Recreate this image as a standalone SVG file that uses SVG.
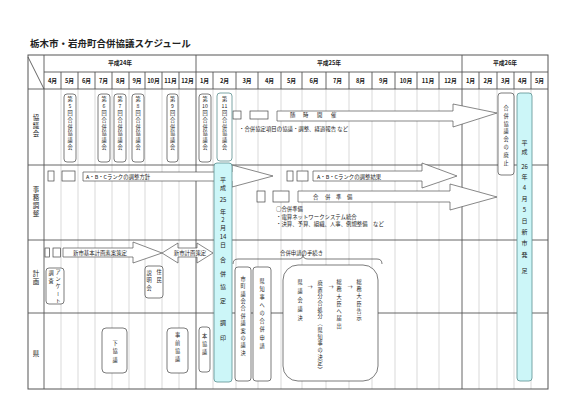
<svg xmlns="http://www.w3.org/2000/svg" width="580" height="410" viewBox="0 0 580 410">
<style>
text{font-family:"Noto Sans CJK JP","Noto Sans",sans-serif;fill:#222}
.t{font-size:9.5px;font-weight:bold}
.h{font-size:5.8px;text-anchor:middle;font-weight:bold}
.lab{font-size:6.5px;writing-mode:vertical-rl;text-orientation:upright}
.v{font-size:5.2px;writing-mode:vertical-rl;text-orientation:upright}
.n{font-size:5.2px;text-anchor:middle}
.s{font-size:5.4px}
.g{stroke:#c8c8c8;stroke-width:0.7;fill:none}
.d{stroke:#555;stroke-width:0.9;fill:none}
.b{fill:#fff;stroke:#444;stroke-width:0.7}
.c{fill:#ccf6f8;stroke:#5b8f8f;stroke-width:0.8}
.ar{fill:#fff;stroke:#555;stroke-width:0.7}
</style>
<rect width="580" height="410" fill="#fff"/>
<text class="t" x="30" y="47">栃木市・岩舟町合併協議スケジュール</text>
<g id="grid">
<path class="g" d="M61 89V389M78 89V389M95 89V389M112 89V389M129 89V389M145 89V389M162 89V389M179 89V389M213 89V389M236 89V389M258 89V389M281 89V389M302 89V389M326 89V389M349 89V389M372 89V389M395 89V389M417 89V389M439 89V389M479 89V389M497 89V389M514 89V389M531 89V389"/>
<path class="d" d="M61 72V89M78 72V89M95 72V89M112 72V89M129 72V89M145 72V89M162 72V89M179 72V89M213 72V89M236 72V89M258 72V89M281 72V89M302 72V89M326 72V89M349 72V89M372 72V89M395 72V89M417 72V89M439 72V89M479 72V89M497 72V89M514 72V89M531 72V89"/>
<path class="d" d="M44 72H548M28 89H548M28 165H548M28 240H548M28 313H548M44 55V389M196 55V389M462 55V389M28 57L44 89"/>
<rect x="28" y="55" width="520" height="334" fill="none" stroke="#555" stroke-width="1"/>
<text class="h" x="120" y="65">平成24年</text>
<text class="h" x="329" y="65">平成25年</text>
<text class="h" x="505" y="65">平成26年</text>
<text class="h" y="83"><tspan x="52.5">4月</tspan><tspan x="69.5">5月</tspan><tspan x="86.5">6月</tspan><tspan x="103.5">7月</tspan><tspan x="120.5">8月</tspan><tspan x="137">9月</tspan><tspan x="153.5">10月</tspan><tspan x="170.5">11月</tspan><tspan x="187.5">12月</tspan><tspan x="204.5">1月</tspan><tspan x="224.5">2月</tspan><tspan x="247">3月</tspan><tspan x="269.5">4月</tspan><tspan x="291.5">5月</tspan><tspan x="314">6月</tspan><tspan x="337.5">7月</tspan><tspan x="360.5">8月</tspan><tspan x="383.5">9月</tspan><tspan x="406">10月</tspan><tspan x="428">11月</tspan><tspan x="450.5">12月</tspan><tspan x="470.5">1月</tspan><tspan x="488">2月</tspan><tspan x="505.5">3月</tspan><tspan x="522.5">4月</tspan><tspan x="539.5">5月</tspan></text>
<text class="lab" x="36" y="113.8" letter-spacing="1.5">協議会</text>
<text class="lab" x="36" y="185.8" letter-spacing="1.8">事務調整</text>
<text class="lab" x="36" y="269.8" letter-spacing="1.5">計画</text>
<text class="lab" x="36" y="350">県</text>
</g>
<g id="connectors">
<polygon class="ar" points="277,111 453,111 453,104 497,113 453,127 453,121 277,121"/>
<polygon class="ar" points="83,172 232,172 232,165 273,176 232,187 232,181 83,181"/>
<polygon class="ar" points="313,171 422,171 422,163 457,176 422,188 422,181 313,181"/>
<polygon class="ar" points="298,191 450,191 450,184 497,197 450,210 450,202 298,202"/>
<polygon class="ar" points="63,248 133,248 133,242 162,253 133,263 133,257 63,257"/>
<polygon class="ar" points="162,253 178,243 178,248 197,248 197,243 213,253 197,263 197,257 178,257 178,263"/>
<path d="M233 264Q233 259 238 259H298Q303 259 303 255Q303 259 308 259H377Q382 259 382 264" fill="none" stroke="#444" stroke-width="0.7"/>
</g>
<g id="labels">
<text class="s" y="117"><tspan x="290">随</tspan><tspan x="303">時</tspan><tspan x="317">開</tspan><tspan x="331">催</tspan></text>
<text class="s" x="239" y="131">・合併協定項目の協議・調整、経過報告 など</text>
<text class="s" x="86" y="179">A・B・Cランクの調整方針</text>
<text class="s" x="317" y="179">A・B・Cランクの調整結果</text>
<text class="s" y="199"><tspan x="313">合</tspan><tspan x="325">併</tspan><tspan x="336">準</tspan><tspan x="347">備</tspan></text>
<text class="s" x="276" y="211">○合併準備</text>
<text class="s" x="276" y="219">・電算ネットワークシステム統合</text>
<text class="s" x="276" y="226">・決算、予算、組織、人事、例規整備　など</text>
<text class="s" x="73" y="255">新市基本計画素案策定</text>
<text class="s" x="190" y="255" text-anchor="middle">新市計画策定</text>
<text class="s" x="280" y="255">合併申請の手続き</text>
</g>
<g id="smallboxes">
<rect class="b" x="233" y="111" width="8" height="8"/>
<rect class="b" x="250" y="111" width="18" height="8"/>
<rect class="b" x="48" y="171" width="6" height="10"/>
<rect class="b" x="62" y="171" width="13" height="10"/>
<rect class="b" x="287" y="171" width="6" height="10"/>
<rect class="b" x="297" y="171" width="11" height="10"/>
<rect class="b" x="257" y="191" width="8" height="11"/>
<rect class="b" x="273" y="191" width="16" height="11"/>
<rect class="b" x="45" y="248" width="4.5" height="9"/>
<rect class="b" x="53" y="248" width="7.5" height="9"/>
</g>
<g id="kai5"><rect class="b" x="64" y="94" width="12" height="68" rx="3"/><text class="v" x="70" y="96.4" letter-spacing="1.7">第5回合併協議会</text></g>
<g id="kai6"><rect class="b" x="98" y="94" width="12" height="68" rx="3"/><text class="v" x="104" y="96.4" letter-spacing="1.7">第6回合併協議会</text></g>
<g id="kai7"><rect class="b" x="114" y="94" width="12" height="68" rx="3"/><text class="v" x="120" y="96.4" letter-spacing="1.7">第7回合併協議会</text></g>
<g id="kai8"><rect class="b" x="132" y="94" width="12" height="68" rx="3"/><text class="v" x="138" y="96.4" letter-spacing="1.7">第8回合併協議会</text></g>
<g id="kai9"><rect class="b" x="167" y="94" width="11" height="68" rx="3"/><text class="v" x="172.5" y="96.4" letter-spacing="1.7">第9回合併協議会</text></g>
<g id="kai10"><rect class="b" x="199" y="94" width="12" height="68" rx="3"/><text class="v" x="205" y="96.4">第</text><text class="n" x="205" y="107.8">10</text><text class="v" x="205" y="110.4" letter-spacing="1.6">回合併協議会</text></g>
<g id="kai11"><rect x="217" y="93" width="15" height="68" rx="3" fill="#fff" stroke="#5b8f8f" stroke-width="0.8"/><text class="v" x="224.5" y="96.4">第</text><text class="n" x="224.5" y="107.8">11</text><text class="v" x="224.5" y="110.4" letter-spacing="1.6">回合併協議会</text></g>
<g id="haishi"><rect class="b" x="498" y="93" width="16" height="82" rx="3"/><text class="v" x="506" y="105.4" letter-spacing="2.6">合併協議会の廃止</text></g>
<g id="chouin"><rect class="c" x="214" y="163" width="18" height="219" rx="3"/><text class="v" style="font-size:6px" x="223" y="177" letter-spacing="2">平成</text><text class="n" style="font-size:6px" x="223" y="202">25</text><text class="v" style="font-size:6px" x="223" y="209" letter-spacing="2">年2月</text><text class="n" style="font-size:6px" x="223" y="239">14</text><text class="v" style="font-size:6px" x="223" y="242">日</text><text class="v" style="font-size:6px" x="223" y="257" letter-spacing="7.5">合併協定</text><text class="v" style="font-size:6px" x="223" y="320" letter-spacing="9">調印</text></g>
<g id="hossoku"><rect class="c" x="517" y="93" width="15" height="288" rx="3"/><text class="v" style="font-size:6px" x="524.5" y="140" letter-spacing="3">平成</text><text class="n" style="font-size:6px" x="524.5" y="169">26</text><text class="v" style="font-size:6px" x="524.5" y="174" letter-spacing="5">年4月5日</text><text class="v" style="font-size:6px" x="524.5" y="229" letter-spacing="5">新市</text><text class="v" style="font-size:6px" x="524.5" y="252" letter-spacing="10">発足</text></g>
<g id="anketo"><rect class="b" x="46" y="268" width="18" height="36" rx="3"/><text class="v" x="58" y="269.4" letter-spacing="2">アンケート</text><text class="v" x="51" y="270.4" letter-spacing="2.8">調査</text></g>
<g id="setsumei"><rect class="b" x="145" y="266" width="18" height="32" rx="3"/><text class="v" x="159" y="269.4" letter-spacing="2.8">住民</text><text class="v" x="149" y="270.4" letter-spacing="2.3">説明会</text></g>
<g id="gikai"><rect class="b" x="235" y="267" width="16" height="114" rx="3"/><text class="v" x="243" y="276.3" letter-spacing="2.2">市町議会合併議案の議決</text></g>
<g id="shinsei"><rect class="b" x="253" y="267" width="18" height="114" rx="3"/><text class="v" x="262" y="278.3" letter-spacing="2.9">県知事への合併申請</text></g>
<g id="tetsuzuki"><rect class="b" x="283" y="265" width="95" height="116" rx="15"/>
<text class="v" x="300" y="279.4" letter-spacing="3.8">県議会議決</text>
<text class="v" x="320" y="280.4" letter-spacing="1.5">廃置分合処分（県知事の決定）</text>
<text class="v" x="339" y="279.4" letter-spacing="2.1">総務大臣へ届出</text>
<text class="v" x="359" y="279.4" letter-spacing="2">総務大臣告示</text>
<text class="n" y="289"><tspan x="310">→</tspan><tspan x="331">→</tspan><tspan x="350">→</tspan></text></g>
<g id="shita"><rect class="b" x="102" y="328" width="25" height="45" rx="4"/><text class="v" x="115" y="340.4" letter-spacing="3.2">下協議</text></g>
<g id="jizen"><rect class="b" x="167" y="328" width="21" height="45" rx="4"/><text class="v" x="177.5" y="332.4" letter-spacing="2.8">事前協議</text></g>
<g id="hon"><rect class="b" x="199" y="327" width="11" height="45" rx="3"/><text class="v" x="204.5" y="333.4" letter-spacing="3">本協議</text></g>
</svg>
